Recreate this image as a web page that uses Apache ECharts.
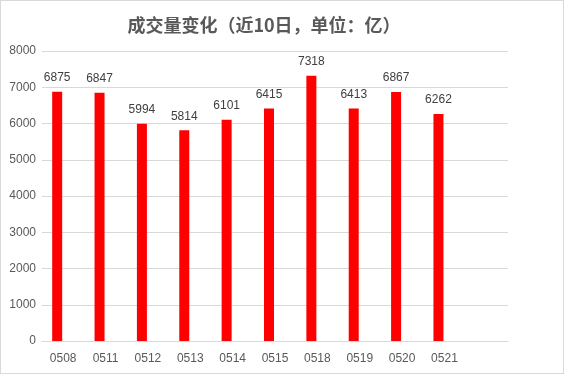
<!DOCTYPE html>
<html><head><meta charset="utf-8">
<script src="https://cdn.jsdelivr.net/npm/echarts@6/dist/echarts.min.js"></script>
<style>
html,body{margin:0;padding:0;background:#fff;}
#c{width:562px;height:372px;border:1px solid #d9d9d9;}
</style></head>
<body><div id="c"></div>
<script>
var categories = ['0508','0511','0512','0513','0514','0515','0518','0519','0520','0521'];
var volumes = [6875, 6847, 5994, 5814, 6101, 6415, 7318, 6413, 6867, 6262];
var yTicks = [0, 1000, 2000, 3000, 4000, 5000, 6000, 7000, 8000];

var chart = echarts.init(document.getElementById('c'), null, {renderer:'canvas'});
chart.setOption({
  animation:false,
  title:{
    text:'成交量变化（近10日，单位：亿）',
    left:258, top:10, textAlign:'center',
    textStyle:{fontSize:18, fontWeight:'bold', color:'#595959', fontFamily:'Noto Sans CJK SC'}
  },
  grid:{left:41, right:55, top:50, bottom:32, containLabel:false},
  xAxis:{
    type:'category',
    data:categories.concat(['']),
    axisLine:{lineStyle:{color:'#d9d9d9'}},
    axisTick:{show:false},
    axisLabel:{color:'#595959', fontSize:12, margin:12, fontFamily:'Liberation Sans'}
  },
  yAxis:{
    type:'value', min:yTicks[0], max:yTicks[yTicks.length-1], interval:1000,
    axisLine:{show:false}, axisTick:{show:false},
    splitLine:{lineStyle:{color:'#d9d9d9'}},
    axisLabel:{color:'#595959', fontSize:12, margin:6, fontFamily:'Liberation Sans',
      formatter:function(v){return String(v);}}
  },
  series:[{
    type:'bar', data:volumes, barWidth:10, barGap:'20%',
    itemStyle:{color:'#ff0000'},
    label:{show:true, position:'top', distance:8, color:'#404040', fontSize:12, fontFamily:'Liberation Sans'}
  },{
    type:'bar', data:categories.map(function(){return '-';}), barWidth:10, barGap:'20%'
  }]
});
</script></body></html>
